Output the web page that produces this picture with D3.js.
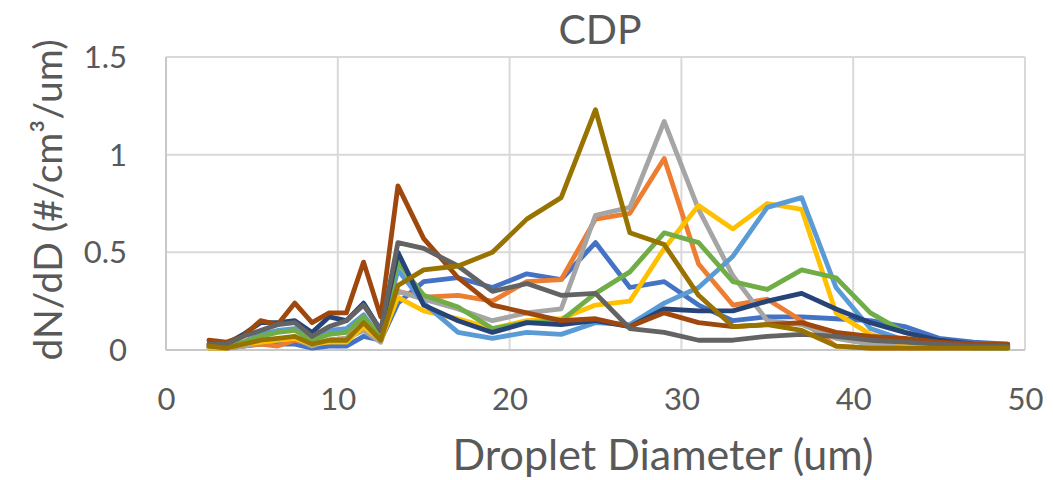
<!DOCTYPE html>
<html>
<head>
<meta charset="utf-8">
<script src="https://cdn.jsdelivr.net/npm/d3@7/dist/d3.min.js"></script>
<style>
  html, body { margin: 0; padding: 0; background: #fff; }
  svg { display: block; }
  text { font-family: Lato, "Open Sans", sans-serif; fill: #595959; }
</style>
</head>
<body>
<svg id="chart" width="1053" height="480"></svg>
<script>
// ---- data ----
const diameters = [2.5,3.5,4.5,5.5,6.5,7.5,8.5,9.5,10.5,11.5,12.5,13.5,15,17,19,21,23,25,27,29,31,33,35,37,39,41,43,45,47,49];
const blueSeries      = [0.01,0.01,0.02,0.03,0.03,0.03,0.01,0.02,0.02,0.07,0.05,0.24,0.35,0.37,0.32,0.39,0.36,0.55,0.32,0.35,0.23,0.15,0.17,0.17,0.16,0.15,0.12,0.06,0.04,0.03];
const orangeSeries    = [0.01,0.01,0.02,0.03,0.02,0.05,0.03,0.05,0.06,0.13,0.06,0.30,0.27,0.28,0.25,0.35,0.36,0.67,0.70,0.98,0.44,0.23,0.26,0.15,0.02,0.01,0.01,0.01,0.01,0.01];
const graySeries      = [0.01,0.01,0.02,0.04,0.05,0.06,0.02,0.05,0.06,0.10,0.04,0.30,0.26,0.21,0.15,0.19,0.21,0.69,0.73,1.17,0.72,0.38,0.15,0.13,0.06,0.03,0.02,0.01,0.01,0.01];
const yellowSeries    = [0.01,0.01,0.03,0.04,0.05,0.06,0.03,0.04,0.04,0.12,0.05,0.27,0.20,0.16,0.11,0.15,0.16,0.23,0.25,0.52,0.74,0.62,0.75,0.72,0.19,0.08,0.03,0.02,0.01,0.01];
const lightBlueSeries = [0.02,0.02,0.04,0.08,0.10,0.11,0.04,0.10,0.11,0.18,0.06,0.41,0.24,0.09,0.06,0.09,0.08,0.14,0.13,0.24,0.32,0.48,0.73,0.78,0.32,0.11,0.05,0.03,0.01,0.01];
const greenSeries     = [0.02,0.02,0.04,0.07,0.09,0.10,0.05,0.08,0.09,0.17,0.07,0.45,0.28,0.22,0.11,0.14,0.15,0.29,0.40,0.60,0.55,0.35,0.31,0.41,0.37,0.19,0.09,0.04,0.02,0.01];
const darkBlueSeries  = [0.03,0.03,0.08,0.14,0.14,0.15,0.09,0.17,0.15,0.24,0.10,0.50,0.23,0.15,0.09,0.14,0.13,0.15,0.12,0.21,0.20,0.20,0.25,0.29,0.21,0.14,0.09,0.05,0.03,0.02];
const brownSeries     = [0.05,0.04,0.07,0.15,0.13,0.24,0.14,0.19,0.19,0.45,0.17,0.84,0.57,0.37,0.23,0.19,0.15,0.16,0.12,0.19,0.14,0.12,0.13,0.14,0.09,0.07,0.06,0.04,0.03,0.03];
const darkGraySeries  = [0.03,0.03,0.07,0.10,0.13,0.14,0.07,0.12,0.15,0.23,0.10,0.55,0.52,0.43,0.30,0.34,0.28,0.29,0.11,0.09,0.05,0.05,0.07,0.08,0.07,0.05,0.04,0.03,0.02,0.02];
const darkYellowSeries= [0.02,0.01,0.03,0.05,0.06,0.07,0.03,0.05,0.05,0.14,0.05,0.33,0.41,0.43,0.50,0.67,0.78,1.23,0.60,0.54,0.28,0.12,0.13,0.10,0.02,0.01,0.01,0.01,0.01,0.01];

const seriesList = [blueSeries, orangeSeries, graySeries, yellowSeries, lightBlueSeries, greenSeries, darkBlueSeries, brownSeries, darkGraySeries, darkYellowSeries];
const seriesColors = ["#4472C4","#ED7D31","#A5A5A5","#FFC000","#5B9BD5","#70AD47","#264478","#9E480E","#636363","#997300"];

const xTicks = [0,10,20,30,40,50];
const yTicks = [0,0.5,1,1.5];
const yTickLabels = ["0","0.5","1","1.5"];
const titleText = "CDP";
const xTitle = "Droplet Diameter (um)";
const yTitle = "dN/dD (#/cm³/um)";

// ---- layout ----
const L = 166, R = 1025, T = 57, B = 350;
const svg = d3.select("#chart");
const x = d3.scaleLinear().domain([0,50]).range([L,R]);
const y = d3.scaleLinear().domain([0,1.5]).range([B,T]);

// gridlines
const grid = svg.append("g");
grid.selectAll("line.v").data(xTicks).join("line")
  .attr("class","v")
  .attr("x1", d => x(d)).attr("x2", d => x(d))
  .attr("y1", T).attr("y2", B)
  .attr("stroke", "#d9d9d9").attr("stroke-width", 2);
grid.selectAll("line.h").data(yTicks).join("line")
  .attr("class","h")
  .attr("x1", L).attr("x2", R)
  .attr("y1", d => y(d)).attr("y2", d => y(d))
  .attr("stroke", "#d9d9d9").attr("stroke-width", 2);
svg.append("line").attr("x1", L).attr("x2", L).attr("y1", T).attr("y2", B)
  .attr("stroke", "#c8c8c8").attr("stroke-width", 2);
svg.append("line").attr("x1", L).attr("x2", R).attr("y1", B).attr("y2", B)
  .attr("stroke", "#c8c8c8").attr("stroke-width", 2);

// axes via d3 (labels only)
const xAxis = d3.axisBottom(x).tickValues(xTicks).tickSize(0).tickPadding(0).tickFormat(d3.format("d"));
const gx = svg.append("g").attr("transform", `translate(0,${B})`).call(xAxis);
gx.select(".domain").remove();
gx.selectAll("text").attr("font-size", 31).attr("dy", null).attr("y", 60)
  .style("font-family", "Lato, sans-serif").attr("fill", "#595959");

const yAxis = d3.axisLeft(y).tickValues(yTicks).tickSize(0).tickPadding(0)
  .tickFormat((d,i) => yTickLabels[i]);
const gy = svg.append("g").attr("transform", `translate(${L},0)`).call(yAxis);
gy.select(".domain").remove();
gy.selectAll("text").attr("font-size", 31).attr("x", -39).attr("dy", "0.34em")
  .style("font-family", "Lato, sans-serif").attr("fill", "#595959");

// lines
const line = d3.line().x((d,i) => x(diameters[i])).y(d => y(d)).curve(d3.curveLinear);
svg.append("g").selectAll("path").data(seriesList).join("path")
  .attr("d", d => line(d))
  .attr("fill", "none")
  .attr("stroke", (d,i) => seriesColors[i])
  .attr("stroke-width", 4.8)
  .attr("stroke-linejoin", "round")
  .attr("stroke-linecap", "round");

// titles
svg.append("text").attr("x", 600).attr("y", 44).attr("text-anchor", "middle")
  .attr("font-size", 41).text(titleText);
svg.append("text").attr("x", 663).attr("y", 470).attr("text-anchor", "middle")
  .attr("font-size", 43).text(xTitle);
svg.append("text").attr("transform", "translate(62,200) rotate(-90)")
  .attr("text-anchor", "middle").attr("font-size", 39).text(yTitle);
</script>
</body>
</html>
